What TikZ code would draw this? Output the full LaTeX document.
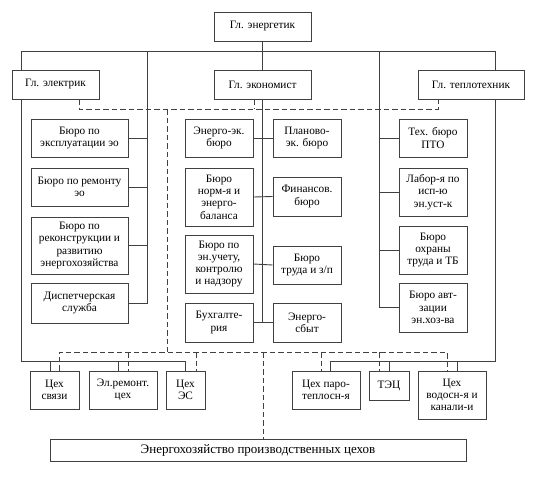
\documentclass[tikz,border=0pt]{standalone}
\usepackage{fontspec}
\setmainfont{Liberation Serif}
\newfontfamily\tnr{Liberation Serif}
\begin{document}
\begin{tikzpicture}[x=1pt,y=-1pt,
  box/.style={draw=black!75,line width=0.9pt,inner sep=0pt,align=center,
    font=\tnr\fontsize{11.3}{12.3}\selectfont,text=black},
  ln/.style={draw=black!75,line width=0.9pt},
  dsh/.style={draw=black!75,line width=0.9pt,dash pattern=on 5.5pt off 3pt}]
\newcommand{\bx}[6]{\node[box,minimum width={(#4-#2)*1pt},minimum height={(#5-#3)*1pt}] (#1) at ({(#2+#4)/2},{(#3+#5)/2}) {#6};}
\fill[white] (0,0) rectangle (536,479);
\useasboundingbox (0,0) rectangle (536,479);
% top level
\bx{gen}{214}{12}{311}{41}{Гл. энергетик}
\bx{gE}{12}{70}{99}{99}{Гл. электрик}
\bx{gEc}{214}{70}{311}{99}{Гл. экономист}
\bx{gT}{418}{70}{524}{99}{Гл. теплотехник}
% electric bureaus
\bx{e1}{31}{119}{128}{157}{Бюро по\\эксплуатации эо}
\bx{e2}{31}{168}{128}{206}{Бюро по ремонту\\эо}
\bx{e3}{31}{217}{128}{274}{Бюро по\\реконструкции и\\развитию\\энергохозяйства}
\bx{e4}{31}{283}{128}{323}{Диспетчерская\\служба}
% economist bureaus
\bx{m1}{185}{119}{253}{157}{Энерго-эк.\\бюро}
\bx{m2}{273}{119}{341}{157}{Планово-\\эк. бюро}
\bx{m3}{185}{168}{253}{226}{Бюро\\норм-я и\\энерго-\\баланса}
\bx{m4}{273}{177}{341}{216}{Финансов.\\бюро}
\bx{m5}{185}{235}{253}{293}{Бюро по\\эн.учету,\\контролю\\и надзору}
\bx{m6}{273}{246}{341}{284}{Бюро\\труда и з/п}
\bx{m7}{185}{303}{253}{342}{Бухгалте-\\рия}
\bx{m8}{273}{303}{341}{342}{Энерго-\\сбыт}
% heat bureaus
\bx{t1}{399}{119}{467}{157}{Тех. бюро\\ПТО}
\bx{t2}{399}{168}{467}{216}{Лабор-я по\\исп-ю\\эн.уст-к}
\bx{t3}{399}{226}{467}{274}{Бюро\\охраны\\труда и ТБ}
\bx{t4}{399}{283}{467}{332}{Бюро авт-\\зации\\эн.хоз-ва}
% workshops
\bx{c1}{30}{371}{79}{409}{Цех\\связи}
\bx{c2}{89}{371}{157}{409}{Эл.ремонт.\\цех}
\bx{c3}{166}{371}{205}{409}{Цех\\ЭС}
\bx{c4}{292}{371}{360}{409}{Цех паро-\\теплосн-я}
\bx{c5}{369}{371}{409}{400}{ТЭЦ}
\bx{c6}{418}{371}{486}{419}{Цех\\водосн-я и\\канали-и}
\node[box,font=\tnr\fontsize{13}{14}\selectfont,minimum width=416pt,minimum height=22pt] (bot) at (258,450) {Энергохозяйство производственных цехов};
% coordinates
\coordinate (tl) at (21,51);
\coordinate (tr) at (495,51);
\coordinate (sE) at (147,51);
\coordinate (sT) at (379,51);
\coordinate (bl) at (21,361);
\coordinate (br) at (495,361);
\coordinate (dy) at (0,352);
\coordinate (ty) at (0,109);
% solid top
\draw[ln] (tl) -- (tr);
\draw[ln] (gen.south) -- (gEc.north);
\draw[ln] (tl) -- (tl |- gE.north);
\draw[ln] (tr) -- (tr |- gT.north);
% electric spine
\draw[ln] (sE) -- (sE |- e4.east) -- (e4.east);
\draw[ln] (e1.east) -- (e1.east -| sE);
\draw[ln] (e2.east) -- (e2.east -| sE);
\draw[ln] (e3.east) -- (e3.east -| sE);
% heat spine
\draw[ln] (sT) -- (sT |- t4.west) -- (t4.west);
\draw[ln] (t1.west) -- (t1.west -| sT);
\draw[ln] (t2.west) -- (t2.west -| sT);
\draw[ln] (t3.west) -- (t3.west -| sT);
% economist spine
\draw[ln] (gEc.south) -- (gEc.south |- m7.east);
\draw[ln] (m1.east) -- (m2.west);
\draw[ln] (m3.east) -- (m4.west);
\draw[ln] (m5.east) -- (m6.west);
\draw[ln] (m7.east) -- (m8.west);
% solid bottom left
\draw[ln] (gE.south -| tl) -- (bl) -- (bl -| c3.north) -- (c3.north);
\draw[ln] ([xshift=-4.5pt]c1.north |- bl) -- ([xshift=-4.5pt]c1.north);
\draw[ln] ([xshift=-5pt]c2.north |- bl) -- ([xshift=-5pt]c2.north);
% solid bottom right
\draw[ln] (gT.south -| tr) -- (br) -- ([xshift=4pt]c4.north |- br) -- ([xshift=4pt]c4.north);
\draw[ln] (c5.north |- br) -- (c5.north);
\draw[ln] ([xshift=5pt]c6.north |- br) -- ([xshift=5pt]c6.north);
% dashed top
\coordinate (dE) at (79,99);
\coordinate (dT) at (438,99);
\draw[dsh] (dE) -- (dE |- ty) -- (dT |- ty) -- (dT);
\draw[dsh] ([xshift=-8.5pt]gEc.south) -- ([xshift=-8.5pt]gEc.south |- ty);
% dashed enclosure and bottom
\coordinate (dL) at (167,109);
\draw[dsh] (dL) -- (dL |- dy);
\draw[dsh] ([xshift=4.5pt]c1.north) -- ([xshift=4.5pt]c1.north |- dy) -- ([xshift=-5pt]c6.north |- dy) -- ([xshift=-5pt]c6.north);
\draw[dsh] ([xshift=5pt]c2.north |- dy) -- ([xshift=5pt]c2.north);
\draw[dsh] ([xshift=10.5pt]c3.north |- dy) -- ([xshift=10.5pt]c3.north);
\draw[dsh] ([xshift=-5pt]c4.north |- dy) -- ([xshift=-5pt]c4.north);
\draw[dsh] ([xshift=-10pt]c5.north |- dy) -- ([xshift=-10pt]c5.north);
\draw[dsh] ([xshift=5pt]bot.north |- dy) -- ([xshift=5pt]bot.north);
\end{tikzpicture}
\end{document}
